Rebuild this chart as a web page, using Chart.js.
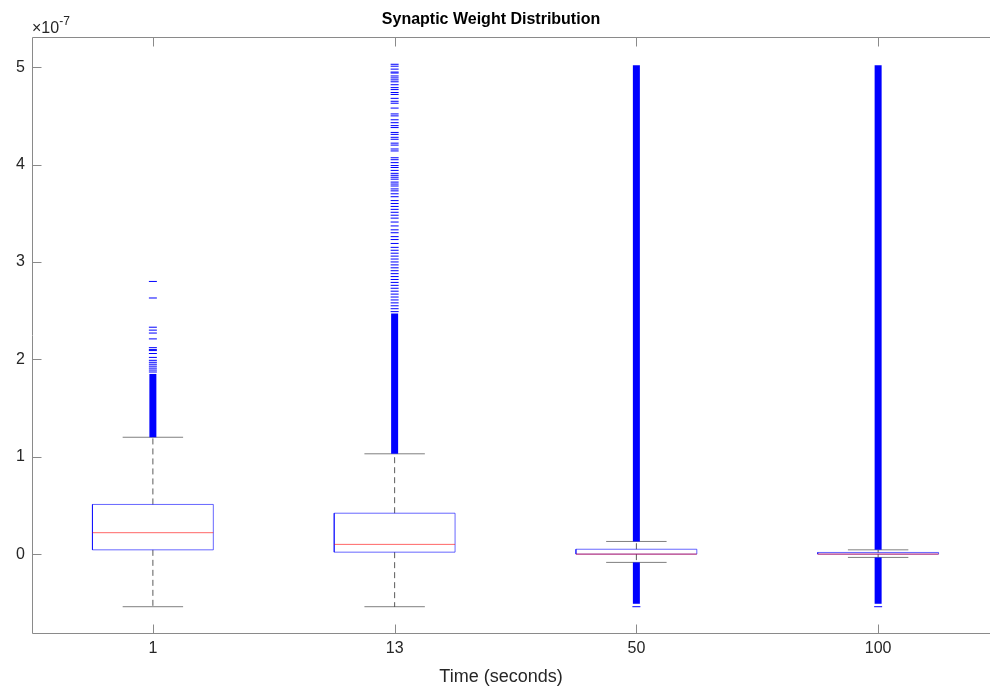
<!DOCTYPE html>
<html>
<head>
<meta charset="utf-8">
<script src="https://cdn.jsdelivr.net/npm/chart.js@4.4.1/dist/chart.umd.min.js"></script>
<style>
  html, body { margin: 0; padding: 0; background: #fff; overflow: hidden; }
  #wrap { width: 1004px; height: 691px; }
</style>
</head>
<body>
<div id="wrap"><canvas id="chart" width="1004" height="691"></canvas></div>
<script>
// values are in units of 1e-7
const categories = ['1', '13', '50', '100'];
const yTicks = [0, 1, 2, 3, 4, 5];
const exponent = -7;

const q1 = [0.044, 0.02, 0.0, 0.0];
const medians = [0.22, 0.10, 0.0, 0.0];
const q3 = [0.51, 0.42, 0.05, 0.017];
const whiskerLow = [-0.54, -0.54, -0.085, -0.034];
const whiskerHigh = [1.20, 1.03, 0.13, 0.044];

// outlier ranges so dense they merge into a solid bar
const denseHigh = [[1.20, 1.85], [1.03, 2.47], [0.13, 5.02], [0.044, 5.02]];
const denseLow = [null, null, [-0.51, -0.085], [-0.51, -0.034]];

// individually visible outliers
const outliers1 = [2.80, 2.63, 2.33, 2.30, 2.27, 2.21, 2.12, 2.10, 2.09, 2.06, 2.02,
  1.99, 1.97, 1.95, 1.93, 1.91, 1.89, 1.87];
const outliers13 = [5.03, 5.01, 4.98, 4.95, 4.94, 4.91, 4.89, 4.87, 4.85, 4.82, 4.79,
  4.77, 4.74, 4.72, 4.68, 4.65, 4.63, 4.58, 4.52, 4.50, 4.46, 4.43, 4.40, 4.38, 4.33,
  4.31, 4.28, 4.26, 4.22, 4.20, 4.16, 4.14, 4.07, 4.05, 4.02, 3.99, 3.97, 3.94, 3.91,
  3.89, 3.87, 3.85, 3.82, 3.80, 3.78, 3.75, 3.73, 3.70, 3.67, 3.63, 3.60, 3.57, 3.54,
  3.51, 3.48, 3.45, 3.41, 3.37, 3.33, 3.30, 3.26, 3.23, 3.19, 3.15, 3.12, 3.09, 3.06,
  3.03, 3.00, 2.97, 2.94, 2.91, 2.88, 2.85, 2.82, 2.79, 2.76, 2.73, 2.70, 2.67, 2.64,
  2.61, 2.58, 2.55, 2.52, 2.49];
const outliers50 = [-0.54];
const outliers100 = [-0.54];
const outliers = [outliers1, outliers13, outliers50, outliers100];

const BOX_HALF = 0.25;
const CAP_HALF = 0.125;

function seg(points, style) {
  return Object.assign({
    type: 'line', data: points, borderWidth: 1, pointRadius: 0,
    fill: false, tension: 0, borderCapStyle: 'butt'
  }, style);
}

const datasets = [];
categories.forEach((c, i) => {
  const x = i + 1;
  // whiskers
  datasets.push(seg([{x, y: q3[i]}, {x, y: whiskerHigh[i]}],
    {borderColor: 'rgba(0,0,0,0.65)', borderDash: [6, 4], order: 6}));
  datasets.push(seg([{x, y: q1[i]}, {x, y: whiskerLow[i]}],
    {borderColor: 'rgba(0,0,0,0.65)', borderDash: [6, 4], order: 6}));
  // caps
  [whiskerHigh[i], whiskerLow[i]].forEach(w => {
    datasets.push(seg([{x: x - CAP_HALF, y: w}, {x: x + CAP_HALF, y: w}],
      {borderColor: 'rgba(0,0,0,0.5)', order: 5}));
  });
  // box
  datasets.push(seg([
    {x: x - BOX_HALF, y: q1[i]}, {x: x + BOX_HALF, y: q1[i]},
    {x: x + BOX_HALF, y: q3[i]}, {x: x - BOX_HALF, y: q3[i]},
    {x: x - BOX_HALF, y: q1[i]}
  ], {borderColor: 'rgba(0,0,255,0.6)', order: 4}));
  // median
  datasets.push(seg([{x: x - BOX_HALF, y: medians[i]}, {x: x + BOX_HALF, y: medians[i]}],
    {borderColor: 'rgba(255,0,0,0.6)', order: 3}));
  // dense outlier bars
  [denseHigh[i], denseLow[i]].forEach(r => {
    if (!r) return;
    datasets.push(seg([{x, y: r[0]}, {x, y: r[1]}],
      {borderColor: '#0000ff', borderWidth: 7, order: 2}));
  });
  // single outliers
  datasets.push({
    type: 'scatter', data: outliers[i].map(v => ({x, y: v})),
    pointStyle: 'line', pointRadius: 4, pointBorderWidth: 1,
    pointBorderColor: '#0000ff', showLine: false, order: 1
  });
});

const axesBox = {
  id: 'axesBox',
  afterDraw(chart) {
    const {ctx, chartArea: a, scales} = chart;
    const L = Math.round(a.left) + 0.5, R = Math.round(a.right) + 0.5;
    const T = Math.round(a.top) + 0.5, B = Math.round(a.bottom) + 0.5;
    ctx.save();
    ctx.strokeStyle = '#8a8a8a';
    ctx.lineWidth = 1;
    ctx.beginPath();
    ctx.moveTo(L, T); ctx.lineTo(R, T); ctx.lineTo(R, B); ctx.lineTo(L, B); ctx.closePath();
    scales.y.ticks.forEach(t => {
      const y = Math.round(scales.y.getPixelForValue(t.value)) + 0.5;
      ctx.moveTo(L, y); ctx.lineTo(L + 9, y);
      ctx.moveTo(R, y); ctx.lineTo(R - 9, y);
    });
    scales.x.ticks.forEach(t => {
      const x = Math.round(scales.x.getPixelForValue(t.value)) + 0.5;
      ctx.moveTo(x, B); ctx.lineTo(x, B - 9);
      ctx.moveTo(x, T); ctx.lineTo(x, T + 9);
    });
    ctx.stroke();

    ctx.fillStyle = '#000';
    ctx.textAlign = 'center';
    ctx.textBaseline = 'middle';
    ctx.font = 'bold 16px "Liberation Sans", Arial, sans-serif';
    ctx.fillText('Synaptic Weight Distribution', 491, 20);

    ctx.fillStyle = '#262626';
    ctx.font = '18px "Liberation Sans", Arial, sans-serif';
    ctx.fillText('Time (seconds)', 501, 677);

    ctx.textAlign = 'left';
    ctx.textBaseline = 'alphabetic';
    ctx.font = '16px "Liberation Sans", Arial, sans-serif';
    ctx.fillText('\u00d710', 32, 33);
    const w = ctx.measureText('\u00d710').width;
    ctx.font = '12px "Liberation Sans", Arial, sans-serif';
    ctx.fillText(String(exponent), 32 + w, 25);
    ctx.restore();
  }
};

new Chart(document.getElementById('chart'), {
  type: 'line',
  data: { datasets },
  options: {
    responsive: false,
    animation: false,
    layout: { padding: { top: 37, right: 4, left: 0, bottom: 0 } },
    plugins: { legend: { display: false }, tooltip: { enabled: false }, title: { display: false } },
    scales: {
      x: {
        type: 'linear', min: 0.5, max: 4.5,
        grid: { display: false, drawTicks: false }, border: { display: false },
        afterBuildTicks: s => { s.ticks = categories.map((c, i) => ({ value: i + 1 })); },
        afterFit: s => { s.height = 58; },
        ticks: {
          padding: 6, color: '#262626',
          font: { family: '"Liberation Sans", Arial, sans-serif', size: 16 },
          callback: v => categories[v - 1]
        }
      },
      y: {
        type: 'linear', min: -0.81, max: 5.31,
        grid: { display: false, drawTicks: false }, border: { display: false },
        afterBuildTicks: s => { s.ticks = yTicks.map(v => ({ value: v })); },
        afterFit: s => { s.width = 32; },
        ticks: {
          padding: 7, color: '#262626',
          font: { family: '"Liberation Sans", Arial, sans-serif', size: 16 }
        }
      }
    }
  },
  plugins: [axesBox]
});
</script>
</body>
</html>
